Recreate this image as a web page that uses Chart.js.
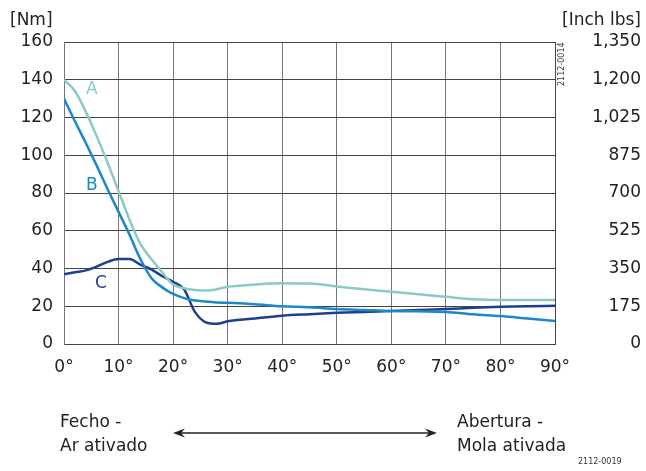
<!DOCTYPE html>
<html>
<head>
<meta charset="utf-8">
<script src="https://cdn.jsdelivr.net/npm/chart.js@4"></script>
<style>
  body { margin: 0; background: #fff; }
  #wrap { position: relative; width: 646px; height: 471px; font-family: "DejaVu Sans", sans-serif; color: #222; }
  #wrap canvas { position: absolute; left: 0; top: 0; }
  .lbl { position: absolute; white-space: nowrap; line-height: 1; }
  .unit { font-size: 17px; top: 11px; }
  .curve { font-size: 17px; }
  .note { font-size: 17px; line-height: 24px; top: 409px; }
  .code { font-size: 8px; color: #333; }
</style>
</head>
<body>
<div id="wrap">
  <canvas id="chart" width="646" height="471"></canvas>
  <div class="lbl unit" style="left:10px">[Nm]</div>
  <div class="lbl unit" style="right:5px">[Inch lbs]</div>
  <div class="lbl curve" style="left:86px; top:80px; color:#8ccac7">A</div>
  <div class="lbl curve" style="left:86px; top:176px; color:#1c88cc">B</div>
  <div class="lbl curve" style="left:95px; top:274px; color:#1f3f8c">C</div>
  <div class="lbl code" style="left:558px; top:86px; transform:rotate(-90deg); transform-origin:0 0">2112-0014</div>
  <div class="lbl note" style="left:60px">Fecho -<br>Ar ativado</div>
  <div class="lbl note" style="left:457px">Abertura -<br>Mola ativada</div>
  <div class="lbl code" style="left:578px; top:458px">2112-0019</div>
  <svg style="position:absolute; left:171px; top:425px" width="268" height="16">
    <line x1="6" y1="8" x2="262" y2="8" stroke="#222" stroke-width="1.3"/>
    <path d="M2 8 L14 3.5 L10 8 L14 12.5 Z" fill="#222"/>
    <path d="M266 8 L254 3.5 L258 8 L254 12.5 Z" fill="#222"/>
  </svg>
</div>
<script>
const angles = [0, 2, 4, 6, 8, 10, 12, 14, 16, 18, 20, 22, 24, 26, 28, 30, 35, 40, 45, 50, 55, 60, 65, 70, 75, 80, 85, 90];
const curveA = [140, 134, 123, 110, 96, 81, 66, 53, 45, 38, 31.5, 29.5, 28.6, 28.3, 29, 30.3, 31.5, 32.2, 32, 30.5, 29, 27.7, 26.3, 25, 23.7, 23.3, 23.3, 23.3];
const curveB = [130, 118, 106.5, 94.5, 82, 70, 58, 45, 35, 30, 26.5, 24.3, 23, 22.5, 22, 21.8, 21, 20, 19.5, 18.5, 18, 17.5, 17.3, 17, 15.7, 14.8, 13.5, 12.2];
const curveC = [37, 38, 39, 41, 43.5, 45, 45, 42, 39.5, 36, 33, 29, 17, 11.5, 10.7, 12, 13.5, 15, 15.8, 16.5, 17, 17.5, 18, 18.5, 19.2, 19.7, 20, 20.2];
const nmTicks = [0, 20, 40, 60, 80, 100, 120, 140, 160];
const inchLbsTicks = ["0", "175", "350", "525", "700", "875", "1,025", "1,200", "1,350"];

const font = { family: "'DejaVu Sans', sans-serif", size: 17 };

function toPoints(values) {
  return angles.map((a, i) => ({ x: a, y: values[i] }));
}

function line(values, color) {
  return {
    data: toPoints(values),
    borderColor: color,
    borderWidth: 2.5,
    pointRadius: 0,
    fill: false,
    cubicInterpolationMode: "monotone"
  };
}

const chart = new Chart(document.getElementById("chart"), {
  type: "line",
  data: {
    datasets: [
      line(curveA, "#8ccac7"),
      line(curveB, "#1c88cc"),
      line(curveC, "#1f3f8c")
    ]
  },
  options: {
    responsive: false,
    animation: false,
    devicePixelRatio: 1,
    layout: { padding: { top: 42, left: 0, right: 5, bottom: 0 } },
    plugins: { legend: { display: false }, tooltip: { enabled: false } },
    scales: {
      x: {
        type: "linear",
        min: 0,
        max: 90,
        afterFit: s => { s.height = 127; },
        grid: { color: "#777", lineWidth: 1, drawTicks: false },
        border: { color: "#444" },
        ticks: { stepSize: 10, padding: 13, color: "#222", font, callback: v => v + "°" }
      },
      y: {
        position: "left",
        min: 0,
        max: 160,
        afterFit: s => { s.width = 64; },
        grid: { color: "#444", lineWidth: 1, drawTicks: false },
        border: { color: "#777" },
        ticks: { stepSize: 10, padding: 11, color: "#222", font, callback: v => nmTicks.includes(v) ? v : "" }
      },
      y2: {
        position: "right",
        min: 0,
        max: 160,
        afterFit: s => { s.width = 86; },
        grid: { drawOnChartArea: false, drawTicks: false },
        border: { color: "#444" },
        ticks: {
          stepSize: 10, padding: 10, crossAlign: "far", color: "#222", font,
          callback: v => { const i = nmTicks.indexOf(v); return i >= 0 ? inchLbsTicks[i] : ""; }
        }
      }
    }
  }
});

// nudge the top padding until the plot box starts where the reference does
for (let i = 0; i < 5; i++) {
  const d = 42 - chart.chartArea.top;
  if (Math.abs(d) < 0.5) break;
  chart.options.layout.padding.top += d;
  chart.update();
}
</script>
</body>
</html>
